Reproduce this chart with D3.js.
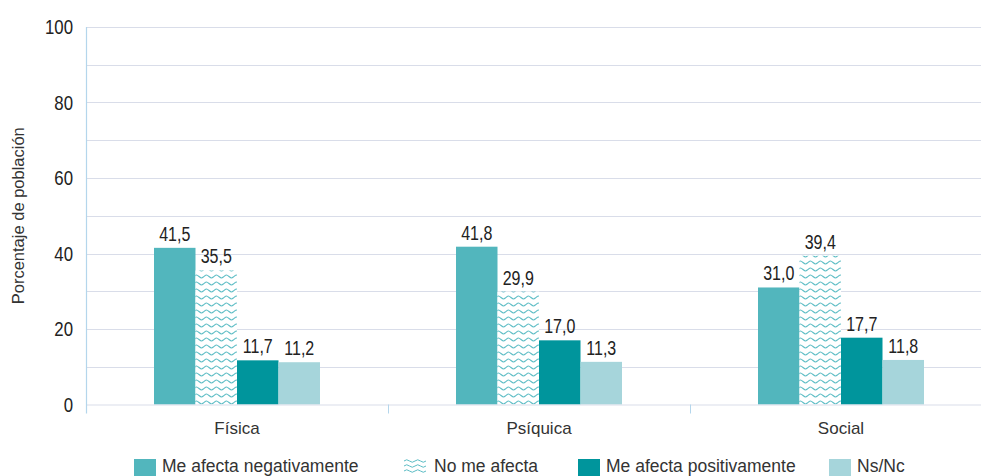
<!DOCTYPE html>
<html>
<head>
<meta charset="utf-8">
<script src="https://cdn.jsdelivr.net/npm/d3@7"></script>
<style>
  body { margin: 0; background: #fff; }
  svg { display: block; }
</style>
</head>
<body>
<script>
const categories = ["Física", "Psíquica", "Social"];
const series = ["Me afecta negativamente", "No me afecta", "Me afecta positivamente", "Ns/Nc"];
const negativo = [41.5, 41.8, 31.0];
const noAfecta = [35.5, 29.9, 39.4];
const positivo = [11.7, 17.0, 17.7];
const nsnc = [11.2, 11.3, 11.8];
const yTicks = [0, 20, 40, 60, 80, 100];

const values = [negativo, noAfecta, positivo, nsnc];
const colors = ["#52b6bd", "url(#wave)", "#00959c", "#a6d5db"];

const width = 981;
const height = 476;
const margin = { top: 27, left: 86, right: -11, bottom: 71 };
const font = "'Liberation Sans', Arial, sans-serif";

const svg = d3.select("body").append("svg")
    .attr("width", width)
    .attr("height", height);

// wavy pattern
const defs = svg.append("defs");
const pat = defs.append("pattern")
    .attr("id", "wave")
    .attr("patternUnits", "userSpaceOnUse")
    .attr("width", 10)
    .attr("height", 7);
pat.append("rect").attr("width", 10).attr("height", 7).attr("fill", "#fff");
pat.append("path")
    .attr("d", "M0,3.5 C2.5,1.5 2.5,1.5 5,3.5 C7.5,5.5 7.5,5.5 10,3.5")
    .attr("fill", "none")
    .attr("stroke", "#5cbdc5")
    .attr("stroke-width", 1.1);

const x = d3.scaleBand()
    .domain(categories)
    .range([margin.left, width - margin.right]);

const y = d3.scaleLinear()
    .domain([0, 100])
    .range([height - margin.bottom - 0.5, margin.top]);

const x1 = d3.scaleBand()
    .domain(series)
    .range([0, 166]);

// gridlines every 10
svg.append("g")
    .selectAll("line")
    .data(d3.range(10, 101, 10))
    .join("line")
    .attr("x1", margin.left)
    .attr("x2", width)
    .attr("y1", d => Math.round(y(d)) + 0.5)
    .attr("y2", d => Math.round(y(d)) + 0.5)
    .attr("stroke", "#d9dde9")
    .attr("stroke-width", 1.2);

// bars
const groups = svg.append("g")
    .selectAll("g")
    .data(categories)
    .join("g")
    .attr("transform", (d, i) => `translate(${x(d) + x.bandwidth() / 2 - 83},0)`);

groups.selectAll("rect")
    .data((d, i) => series.map((s, j) => ({ s, v: values[j][i], c: colors[j] })))
    .join("rect")
    .attr("x", d => x1(d.s))
    .attr("width", x1.bandwidth())
    .attr("y", d => y(d.v))
    .attr("height", d => y(0) - y(d.v))
    .attr("fill", d => d.c);

// narrow-looking labels: squeeze text horizontally
groups.selectAll("text")
    .data((d, i) => series.map((s, j) => ({ s, v: values[j][i] })))
    .join("text")
    .attr("transform", d => `translate(${x1(d.s) + x1.bandwidth() / 2},${y(d.v) - 7}) scale(0.8,1)`)
    .attr("text-anchor", "middle")
    .attr("font-family", font)
    .attr("font-size", 20)
    .attr("fill", "#222")
    .text(d => d.v.toFixed(1).replace(".", ","));

// x axis line and separators
svg.append("line")
    .attr("x1", margin.left)
    .attr("x2", width)
    .attr("y1", y(0) + 0.5)
    .attr("y2", y(0) + 0.5)
    .attr("stroke", "#d9dde9")
    .attr("stroke-width", 1.2);

svg.append("g")
    .selectAll("line")
    .data(categories.slice(1))
    .join("line")
    .attr("x1", d => Math.round(x(d)) + 0.5)
    .attr("x2", d => Math.round(x(d)) + 0.5)
    .attr("y1", y(0))
    .attr("y2", y(0) + 9)
    .attr("stroke", "#b4d6ec");

svg.append("line")
    .attr("x1", margin.left + 0.5)
    .attr("x2", margin.left + 0.5)
    .attr("y1", margin.top)
    .attr("y2", y(0) + 9)
    .attr("stroke", "#b4d6ec")
    .attr("stroke-width", 1.2);

// category labels
svg.append("g")
    .selectAll("text")
    .data(categories)
    .join("text")
    .attr("x", d => x(d) + x.bandwidth() / 2)
    .attr("y", y(0) + 29)
    .attr("text-anchor", "middle")
    .attr("font-family", font)
    .attr("font-size", 17)
    .attr("fill", "#333")
    .text(d => d);

// y tick labels
svg.append("g")
    .selectAll("text")
    .data(yTicks)
    .join("text")
    .attr("transform", d => `translate(73,${y(d) + 7}) scale(0.8,1)`)
    .attr("text-anchor", "end")
    .attr("font-family", font)
    .attr("font-size", 21)
    .attr("fill", "#222")
    .text(d => d);

// y title
svg.append("text")
    .attr("transform", `translate(24,${(y(0) + y(100)) / 2}) rotate(-90)`)
    .attr("text-anchor", "middle")
    .attr("font-family", font)
    .attr("font-size", 16.5)
    .attr("fill", "#333")
    .text("Porcentaje de población");

// legend
const legendX = [134, 404, 578, 829];
const legend = svg.append("g")
    .selectAll("g")
    .data(series)
    .join("g")
    .attr("transform", (d, i) => `translate(${legendX[i]},459)`);

legend.each(function (d, i) {
    const g = d3.select(this);
    if (i === 1) {
        [2, 7, 12].forEach(dy => {
            g.append("path")
                .attr("d", `M0,${dy} q2.75,-2.5 5.5,0 t5.5,0 t5.5,0 t5.5,0`)
                .attr("fill", "none")
                .attr("stroke", "#5cbdc5")
                .attr("stroke-width", 1);
        });
    } else {
        g.append("rect")
            .attr("width", 22)
            .attr("height", 17)
            .attr("fill", colors[i]);
    }
    g.append("text")
        .attr("x", i === 1 ? 30 : 28)
        .attr("y", 13)
        .attr("font-family", font)
        .attr("font-size", 17.5)
        .attr("fill", "#333")
        .text(d);
});
</script>
</body>
</html>
